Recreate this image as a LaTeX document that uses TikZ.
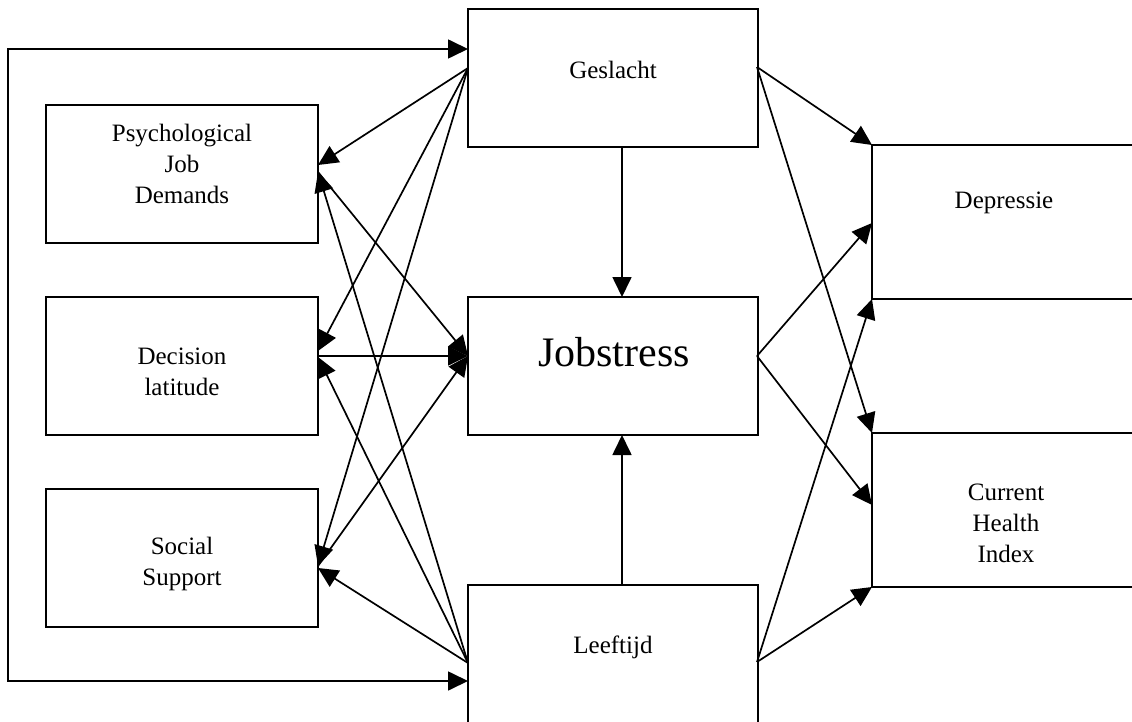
\documentclass[tikz,border=0pt]{standalone}
\usepackage{fontspec}
\setmainfont{Liberation Serif}
\usetikzlibrary{arrows.meta,calc}
\begin{document}
\begin{tikzpicture}[x=1pt,y=-1pt,
  box/.style={draw, line width=1.7pt, minimum width=#1, inner sep=0pt},
  box/.default=272pt,
  lbl/.style={align=center, font=\fontsize{25}{31}\selectfont, inner sep=0pt},
  big/.style={font=\fontsize{42}{50}\selectfont, inner sep=0pt},
  conn/.style={line width=1.7pt, -{Triangle[length=20pt,width=19pt]}},
  both/.style={line width=1.7pt, {Triangle[length=20pt,width=19pt]}-{Triangle[length=20pt,width=19pt]}}]
\useasboundingbox (0,0) rectangle (1132,722);
\clip (0,0) rectangle (1132,722);

% boxes
\node[box, minimum height=138pt] (psych) at (182,174) {};
\node[box, minimum height=138pt] (decis) at (182,366) {};
\node[box, minimum height=138pt] (social) at (182,558) {};
\node[box=290pt, minimum height=138pt] (gesl) at (613,78) {};
\node[box=290pt, minimum height=138pt] (jobs) at (613,366) {};
\node[box=290pt, minimum height=176pt] (leef) at (613,673) {};
\node[box=290pt, minimum height=154pt] (depr) at (1017,222) {};
\node[box=290pt, minimum height=154pt] (chi) at (1017,510) {};

% texts
\node[lbl] (psychT) at (182,164) {Psychological\\Job\\Demands};
\node[lbl] (decisT) at (182,372) {Decision\\latitude};
\node[lbl] (socialT) at (182,564) {Social\\Support};
\node[lbl] (geslT) at (613,70) {Geslacht};
\node[big] (jobsT) at (614,352) {Jobstress};
\node[lbl] (leefT) at (613,647) {Leeftijd};
\node[lbl] (deprT) at (1004,203) {Depressie};
\node[lbl] (chiT) at (1006,523) {Current\\Health\\Index};

% connection points
\coordinate (gIn) at (468,49);
\coordinate (lIn) at (468,681);
\coordinate (loopTop) at (8,49);
\coordinate (loopBot) at (8,681);
\coordinate (gW) at (468,68);
\coordinate (lW) at (468,663);
\coordinate (jW) at (468,356);
\coordinate (gE) at (757,67);
\coordinate (jE) at (757,356);
\coordinate (lE) at (757,662);
\coordinate (pA) at (318,165);
\coordinate (pB) at (318,172);
\coordinate (dA) at (318,351);
\coordinate (dB) at (318,357);
\coordinate (sA) at (318,566);
\coordinate (sB) at (318,568);
\coordinate (dpTop) at (872,145);
\coordinate (dpMid) at (872,223);
\coordinate (dpBot) at (872,299);
\coordinate (chTop) at (872,433);
\coordinate (chMid) at (872,505);
\coordinate (chBot) at (872,587);
\coordinate (gS) at (622,147);
\coordinate (jN) at (622,297);
\coordinate (lN) at (622,585);
\coordinate (jS) at (622,435);

% loop from the left
\draw[both] (gIn) -- (loopTop) -- (loopBot) -- (lIn);

% Geslacht and Leeftijd to the three job factors
\draw[conn] (gW) -- (pA);
\draw[conn] (gW) -- (dA);
\draw[conn] (gW) -- (sA);
\draw[conn] (lW) -- (pB);
\draw[conn] (lW) -- (dB);
\draw[conn] (lW) -- (sB);

% job factors to Jobstress
\draw[conn] (pB) -- (jW);
\draw[conn] (decis.east |- jW) -- (jW);
\draw[conn] (sA) -- (jW);

% vertical arrows into Jobstress
\draw[conn] (gS) -- (jN);
\draw[conn] (lN) -- (jS);

% arrows to the outcomes
\draw[conn] (gE) -- (dpTop);
\draw[conn] (gE) -- (chTop);
\draw[conn] (jE) -- (dpMid);
\draw[conn] (jE) -- (chMid);
\draw[conn] (lE) -- (dpBot);
\draw[conn] (lE) -- (chBot);
\end{tikzpicture}
\end{document}
